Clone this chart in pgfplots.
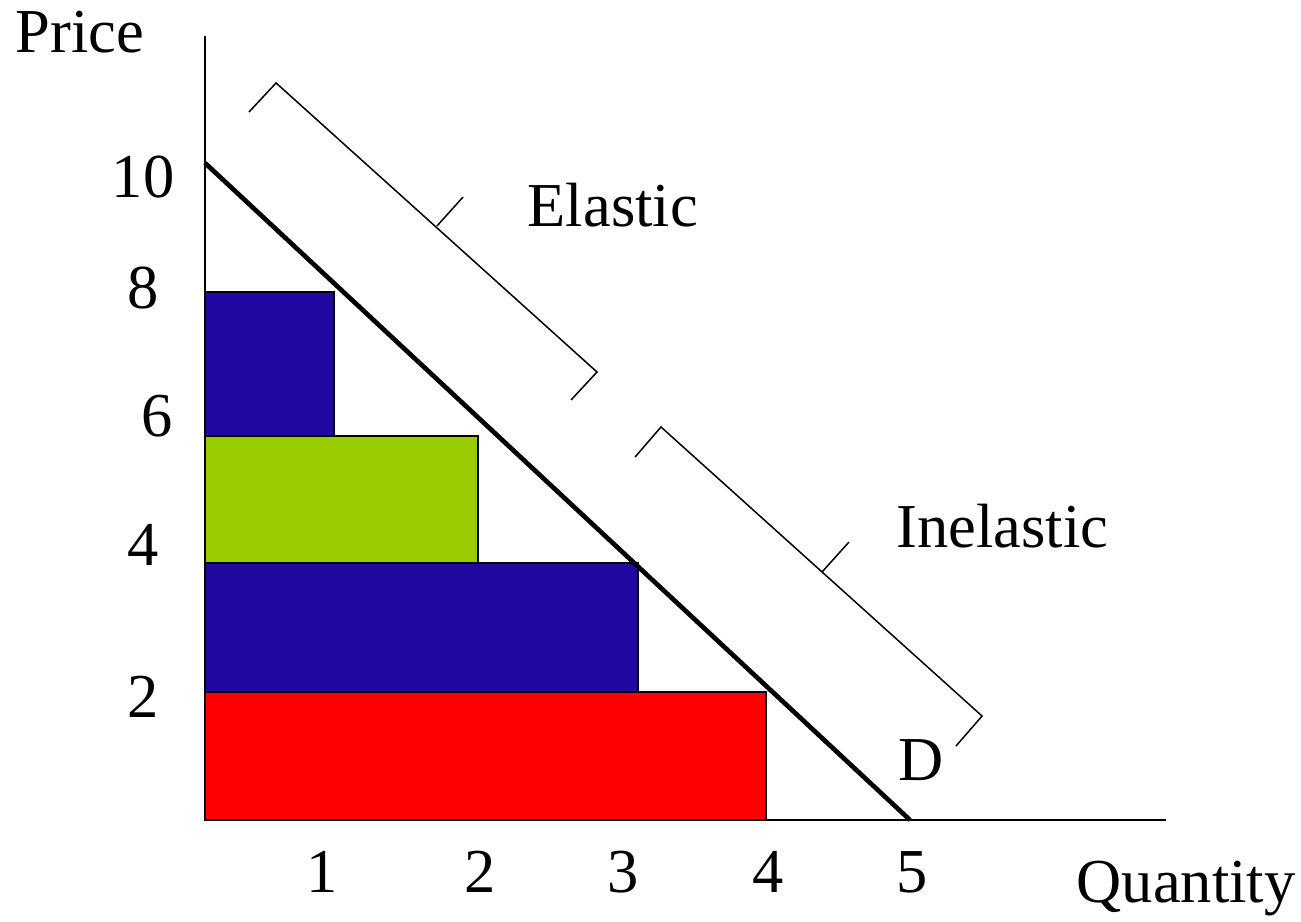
\documentclass[border=0pt]{standalone}
\usepackage{fontspec}
\setmainfont{Liberation Serif}
\usepackage{pgfplots}
\pgfplotsset{compat=1.18}
\definecolor{barblue}{RGB}{32,8,160}
\definecolor{bargreen}{RGB}{153,204,0}
\definecolor{barred}{RGB}{255,0,0}
\newcommand{\chartfont}{\fontsize{18.75}{22}\selectfont}
\begin{document}
\begin{tikzpicture}
\begin{axis}[
  scale only axis, width=288.3pt, height=235.2pt,
  xmin=0, xmax=6.816, ymin=0, ymax=11.933,
  axis x line=bottom, axis y line=left,
  axis line style={-, line width=0.6pt, black},
  clip=false,
  major tick length=0pt,
  xtick={0.830,1.950,2.965,3.993,5.014}, xticklabels={1,2,3,4,5},
  xticklabel style={anchor=base, yshift=-21.6pt, font=\chartfont},
  ytick={1.568,3.881,5.830,7.793,9.482}, yticklabels={2,4,{\hspace{8.4pt}6},8,10},
  yticklabel style={anchor=base, xshift=-18.6pt, font=\chartfont},
]
% bars (areas)
\addplot[draw=black, line width=0.6pt, fill=barred] coordinates {(0,0) (3.979,0) (3.979,1.948) (0,1.948)} -- cycle;
\addplot[draw=black, line width=0.6pt, fill=barblue] coordinates {(0,1.948) (3.071,1.948) (3.071,3.912) (0,3.912)} -- cycle;
\addplot[draw=black, line width=0.6pt, fill=bargreen] coordinates {(0,3.912) (1.936,3.912) (1.936,5.845) (0,5.845)} -- cycle;
\addplot[draw=black, line width=0.6pt, fill=barblue] coordinates {(0,5.845) (0.915,5.845) (0.915,8.037) (0,8.037)} -- cycle;
% demand curve
\addplot[black, line width=1.4pt] coordinates {(0,10) (5,0)};
% elastic bracket
\addplot[black, line width=0.45pt] coordinates {(0.312,10.776) (0.504,11.218) (2.780,6.819) (2.596,6.393)};
\addplot[black, line width=0.45pt] coordinates {(1.645,9.041) (1.830,9.482)};
% inelastic bracket
\addplot[black, line width=0.45pt] coordinates {(3.050,5.525) (3.234,5.982) (5.511,1.583) (5.326,1.126)};
\addplot[black, line width=0.45pt] coordinates {(4.376,3.775) (4.567,4.231)};
% labels
\node[anchor=base west, inner sep=0pt, font=\chartfont] at (axis cs:-1.348,11.689) {Price};
\node[anchor=base west, inner sep=0pt, font=\chartfont] at (axis cs:6.177,-1.248) {Quantity};
\node[anchor=base west, inner sep=0pt, font=\chartfont] at (axis cs:2.284,9.026) {Elastic};
\node[anchor=base west, inner sep=0pt, font=\chartfont] at (axis cs:4.901,4.155) {Inelastic};
\node[anchor=base west, inner sep=0pt, font=\chartfont] at (axis cs:4.915,0.609) {D};
\coordinate (bbsw) at (axis cs:-1.454,-1.537);
\coordinate (bbne) at (axis cs:7.773,12.481);
\end{axis}
\pgfresetboundingbox
\useasboundingbox (bbsw) rectangle (bbne);
\end{tikzpicture}
\end{document}
